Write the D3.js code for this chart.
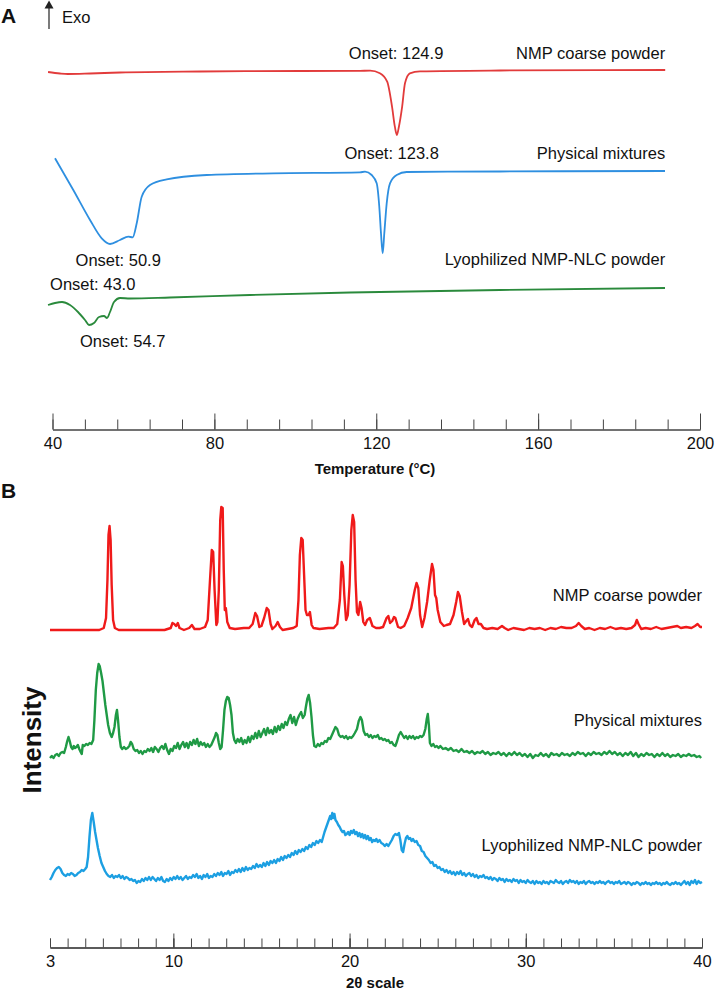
<!DOCTYPE html>
<html><head><meta charset="utf-8">
<script src="https://cdn.jsdelivr.net/npm/d3@7"></script>
<style>
body{margin:0;background:#fff}
svg{display:block}
text{font-family:"Liberation Sans",Arial,Helvetica,sans-serif;fill:#111}
</style>
</head><body>
<svg id="c" width="716" height="992"></svg>
<script>
// ---------- DSC (panel A) ----------
const dscTickLabels = [40, 80, 120, 160, 200];
const dscNames = ["NMP coarse powder", "Physical mixtures", "Lyophilized NMP-NLC powder"];
// [temperature °C, heat flow a.u.]
const dscRed = [[38.9,26.8],[41.85,26.65],[43.8,26.6],[49.3,26.65],[56.7,26.75],[76.5,26.85],[101.2,26.9],[116,26.92],[118.5,26.93],[120.9,26.67],[122.7,25.83],[123.9,23.33],[124.6,21.33],[125.1,20.5],[125.6,21.33],[126.4,23.33],[127.1,25.67],[128.3,26.67],[130.8,26.87],[150.6,26.95],[191.4,27.0]];
const dscBlue = [[40.62,18.17],[45.14,15.0],[49.27,12.0],[52.16,10.17],[54.21,9.6],[56.68,10.0],[58.73,10.33],[59.82,10.27],[60.81,11.67],[62.04,14.33],[64.09,15.5],[68.22,16.07],[78.1,16.5],[94.49,16.67],[115.99,16.77],[117.23,16.83],[118.87,16.5],[120.11,15.67],[120.75,13.33],[121.17,10.67],[121.59,8.67],[121.99,10.67],[122.58,13.67],[123.4,15.67],[125.05,16.5],[127.52,16.8],[150.58,16.85],[191.35,16.9]];
const dscGreen = [[38.89,3.5],[40.62,3.7],[42.35,3.8],[44.32,3.5],[46.3,2.8],[48.03,2.0],[49.02,1.5],[50.25,1.7],[51.49,2.3],[52.73,2.4],[53.47,2.2],[54.21,2.8],[55.2,3.8],[56.68,4.2],[59.15,4.15],[69.03,4.25],[88.8,4.5],[113.51,4.75],[150.58,5.0],[191.35,5.2]];
const dscOnsets = [
  {text:"Onset: 124.9", t:124.9, v:28.1, anchor:"middle"},
  {text:"Onset: 123.8", t:123.8, v:18.1, anchor:"middle"},
  {text:"Onset: 50.9", t:45.7, v:7.4, anchor:"start"},
  {text:"Onset: 43.0", t:39.4, v:5.0, anchor:"start"},
  {text:"Onset: 54.7", t:46.8, v:-0.7, anchor:"start"}
];

// ---------- XRD (panel B) ----------
const xrdTickLabels = [3, 10, 20, 30, 40];
const xrdNames = ["NMP coarse powder", "Physical mixtures", "Lyophilized NMP-NLC powder"];
const xrdOffsets = [330, 205, 78];
// [2θ, intensity a.u.]
const xrdRed = [[3.0,0],[4.0,0],[5.0,0],[5.8,0],[6.05,2],[6.18,12],[6.26,50],[6.32,95],[6.38,104],[6.44,90],[6.5,45],[6.58,10],[6.68,2],[6.9,0],[8,0],[9.5,0],[9.85,2],[9.95,7],[10.05,6],[10.15,4],[10.25,7],[10.35,2],[10.6,0],[10.9,2],[11.05,5],[11.2,1],[11.5,1],[11.65,2],[11.8,3],[11.95,10],[12.08,50],[12.18,80],[12.26,78],[12.34,40],[12.44,5],[12.5,8],[12.58,40],[12.66,110],[12.72,123],[12.8,122],[12.86,60],[12.92,20],[12.98,22],[13.06,8],[13.2,2],[13.5,1],[14.0,2],[14.3,2],[14.5,6],[14.65,17],[14.75,14],[14.88,3],[15.0,4],[15.15,12],[15.3,22],[15.4,20],[15.52,6],[15.62,1],[15.8,4],[15.92,8],[16.05,3],[16.2,0],[16.5,1],[16.8,2],[17.0,4],[17.1,30],[17.18,75],[17.26,92],[17.34,90],[17.42,55],[17.5,20],[17.58,15],[17.68,15],[17.75,18],[17.85,5],[17.95,2],[18.3,1],[18.8,2],[19.1,2],[19.3,6],[19.45,30],[19.55,68],[19.62,64],[19.7,35],[19.8,10],[19.9,15],[20.0,45],[20.1,100],[20.18,115],[20.26,108],[20.34,50],[20.42,18],[20.5,15],[20.6,28],[20.68,22],[20.78,8],[20.88,5],[21.0,10],[21.15,12],[21.3,4],[21.5,2],[21.7,2],[21.9,3],[22.1,12],[22.2,14],[22.3,7],[22.42,9],[22.52,13],[22.6,12],[22.75,3],[22.9,2],[23.1,4],[23.3,12],[23.5,22],[23.7,40],[23.8,47],[23.9,42],[24.0,15],[24.12,3],[24.25,12],[24.4,28],[24.55,50],[24.68,66],[24.76,60],[24.85,35],[24.92,32],[25.0,20],[25.15,8],[25.35,4],[25.5,5],[25.7,6],[25.9,15],[26.05,28],[26.15,38],[26.25,34],[26.38,18],[26.5,6],[26.62,9],[26.72,11],[26.82,5],[26.95,3],[27.1,10],[27.2,12],[27.32,6],[27.45,6],[27.6,2],[27.8,1],[28.1,2],[28.4,1],[28.65,4],[28.8,2],[29.0,0],[29.3,2],[29.6,1],[29.9,0],[30.2,2],[30.5,1],[30.8,2],[31.1,0],[31.4,2],[31.7,1],[32.0,3],[32.3,2],[32.6,2],[32.85,4],[33.0,7],[33.15,4],[33.35,1],[33.6,2],[33.9,0],[34.2,2],[34.5,1],[34.8,3],[35.1,1],[35.4,2],[35.7,1],[36.0,2],[36.2,5],[36.3,10],[36.4,6],[36.55,1],[36.8,2],[37.1,1],[37.4,3],[37.7,1],[38.0,2],[38.3,3],[38.6,4],[38.8,2],[39.1,3],[39.4,2],[39.6,4],[39.75,6],[39.9,3],[40.0,3]];
const xrdGreen = [[3.0,-3],[3.1,-1],[3.2,-3],[3.3,0],[3.4,1],[3.5,-1],[3.6,2],[3.7,3],[3.8,2],[3.9,8],[3.98,14],[4.05,18],[4.12,14],[4.2,8],[4.28,6],[4.35,9],[4.42,7],[4.5,8],[4.58,10],[4.66,6],[4.74,3],[4.8,1],[4.86,10],[4.95,9],[5.05,11],[5.15,10],[5.25,12],[5.35,11],[5.45,15],[5.52,35],[5.6,65],[5.68,82],[5.76,91],[5.82,89],[5.9,82],[5.98,74],[6.06,62],[6.14,50],[6.22,40],[6.3,30],[6.4,22],[6.5,18],[6.58,22],[6.66,28],[6.74,40],[6.8,45],[6.86,35],[6.94,18],[7.02,8],[7.1,6],[7.2,8],[7.3,6],[7.4,7],[7.5,9],[7.58,13],[7.66,11],[7.75,6],[7.85,4],[7.95,5],[8.05,2],[8.15,4],[8.25,1],[8.35,4],[8.45,3],[8.55,6],[8.65,4],[8.75,7],[8.85,3],[8.95,8],[9.05,6],[9.15,3],[9.25,7],[9.35,9],[9.45,6],[9.55,11],[9.65,5],[9.75,1],[9.85,6],[9.95,4],[10.05,9],[10.15,7],[10.25,12],[10.35,6],[10.45,10],[10.55,13],[10.65,8],[10.75,12],[10.85,7],[10.95,13],[11.05,10],[11.15,15],[11.25,11],[11.35,16],[11.45,9],[11.55,13],[11.65,10],[11.75,12],[11.85,8],[11.95,11],[12.05,8],[12.15,10],[12.25,14],[12.35,18],[12.42,22],[12.5,20],[12.58,12],[12.66,6],[12.74,8],[12.82,25],[12.9,45],[12.98,54],[13.06,58],[13.14,57],[13.22,50],[13.3,40],[13.38,22],[13.46,15],[13.55,12],[13.65,16],[13.75,13],[13.85,17],[13.95,11],[14.05,15],[14.15,12],[14.25,18],[14.35,13],[14.45,19],[14.55,16],[14.65,22],[14.75,17],[14.85,24],[14.95,18],[15.05,22],[15.15,26],[15.25,20],[15.35,27],[15.45,22],[15.55,25],[15.65,21],[15.75,28],[15.85,23],[15.95,29],[16.05,25],[16.15,31],[16.25,27],[16.35,33],[16.45,30],[16.55,36],[16.65,40],[16.75,32],[16.85,38],[16.95,30],[17.05,36],[17.15,40],[17.25,43],[17.35,37],[17.45,40],[17.52,48],[17.6,56],[17.68,60],[17.76,52],[17.84,38],[17.92,20],[18.0,9],[18.1,8],[18.2,11],[18.3,9],[18.4,12],[18.5,11],[18.6,14],[18.7,13],[18.8,17],[18.9,16],[19.0,20],[19.1,24],[19.2,28],[19.3,26],[19.4,20],[19.5,18],[19.6,19],[19.7,17],[19.8,19],[19.9,16],[20.0,18],[20.1,17],[20.2,19],[20.3,22],[20.42,26],[20.52,34],[20.62,38],[20.7,35],[20.8,24],[20.9,20],[21.0,21],[21.1,18],[21.2,20],[21.3,17],[21.4,19],[21.5,18],[21.6,20],[21.7,16],[21.8,17],[21.9,15],[22.0,16],[22.1,14],[22.2,15],[22.3,12],[22.4,13],[22.5,10],[22.6,9],[22.7,14],[22.8,20],[22.9,23],[23.0,20],[23.1,17],[23.2,19],[23.3,16],[23.4,19],[23.5,17],[23.6,19],[23.7,16],[23.8,18],[23.9,17],[24.0,19],[24.1,18],[24.2,20],[24.3,26],[24.38,36],[24.44,41],[24.5,30],[24.56,12],[24.65,9],[24.75,11],[24.85,8],[24.95,9],[25.05,7],[25.15,9],[25.3,6],[25.45,7],[25.6,5],[25.75,7],[25.9,4],[26.05,5],[26.2,3],[26.35,6],[26.5,3],[26.65,4],[26.8,2],[26.95,4],[27.1,1],[27.25,3],[27.4,2],[27.55,4],[27.7,1],[27.85,3],[28.0,0],[28.15,2],[28.3,1],[28.45,3],[28.6,0],[28.75,2],[28.9,-1],[29.05,2],[29.2,0],[29.35,3],[29.5,0],[29.65,2],[29.8,-1],[29.95,1],[30.1,-2],[30.25,1],[30.4,-3],[30.55,0],[30.7,-1],[30.85,2],[31.0,-1],[31.15,1],[31.3,-2],[31.45,2],[31.6,0],[31.75,1],[31.9,-1],[32.05,2],[32.2,0],[32.35,1],[32.5,-1],[32.65,2],[32.8,0],[32.95,3],[33.1,1],[33.25,2],[33.4,-1],[33.55,2],[33.7,0],[33.85,3],[34.0,1],[34.15,2],[34.3,0],[34.45,3],[34.6,1],[34.75,4],[34.9,1],[35.05,3],[35.2,0],[35.35,2],[35.5,-1],[35.65,2],[35.8,0],[35.95,3],[36.1,-1],[36.25,2],[36.4,-2],[36.55,1],[36.7,-1],[36.85,2],[37.0,0],[37.15,1],[37.3,-2],[37.45,1],[37.6,-1],[37.75,2],[37.9,-1],[38.05,1],[38.2,-2],[38.35,0],[38.5,-1],[38.65,1],[38.8,-2],[38.95,0],[39.1,-1],[39.25,1],[39.4,-1],[39.55,0],[39.7,-2],[39.85,-1],[39.95,-3]];
const xrdBlue = [[3.0,2],[3.1,5],[3.2,9],[3.3,12],[3.4,14],[3.5,15],[3.6,13],[3.7,9],[3.8,7],[3.9,6],[4.0,8],[4.1,7],[4.2,9],[4.3,8],[4.4,6],[4.5,7],[4.6,9],[4.7,10],[4.8,12],[4.9,11],[5.0,13],[5.08,15],[5.16,25],[5.24,45],[5.32,62],[5.4,69],[5.48,60],[5.56,50],[5.64,42],[5.72,34],[5.82,26],[5.92,19],[6.02,15],[6.12,11],[6.22,8],[6.32,6],[6.42,5],[6.52,7],[6.62,4],[6.72,6],[6.82,5],[6.92,7],[7.02,4],[7.12,6],[7.22,3],[7.32,5],[7.42,4],[7.52,2],[7.62,3],[7.72,1],[7.82,2],[7.92,-1],[8.02,1],[8.12,0],[8.22,3],[8.32,1],[8.42,4],[8.52,2],[8.62,5],[8.72,2],[8.82,5],[8.92,3],[9.02,1],[9.12,4],[9.22,2],[9.32,5],[9.42,1],[9.52,0],[9.62,3],[9.72,1],[9.82,4],[9.92,2],[10.02,5],[10.12,3],[10.22,6],[10.32,3],[10.42,5],[10.52,2],[10.62,4],[10.72,6],[10.82,3],[10.92,5],[11.02,4],[11.12,7],[11.22,5],[11.32,8],[11.42,4],[11.52,6],[11.62,3],[11.72,7],[11.82,5],[11.92,8],[12.02,4],[12.12,6],[12.22,5],[12.32,8],[12.42,6],[12.52,9],[12.62,7],[12.72,10],[12.82,6],[12.92,9],[13.02,8],[13.12,11],[13.22,7],[13.32,10],[13.42,9],[13.52,12],[13.62,10],[13.72,13],[13.82,10],[13.92,14],[14.02,11],[14.12,15],[14.22,12],[14.32,14],[14.42,13],[14.52,16],[14.62,14],[14.72,18],[14.82,15],[14.92,17],[15.02,15],[15.12,19],[15.22,16],[15.32,20],[15.42,17],[15.52,21],[15.62,19],[15.72,22],[15.82,19],[15.92,23],[16.02,21],[16.12,25],[16.22,22],[16.32,26],[16.42,24],[16.52,27],[16.62,25],[16.72,29],[16.82,27],[16.92,31],[17.02,28],[17.12,32],[17.22,30],[17.32,33],[17.42,31],[17.52,35],[17.62,33],[17.72,37],[17.82,35],[17.92,39],[18.02,37],[18.12,41],[18.22,39],[18.32,42],[18.42,40],[18.5,45],[18.58,50],[18.66,54],[18.74,58],[18.82,62],[18.9,66],[18.96,63],[19.02,69],[19.08,64],[19.14,68],[19.2,62],[19.28,60],[19.36,57],[19.44,55],[19.52,52],[19.6,50],[19.68,51],[19.76,47],[19.84,48],[19.92,50],[20.0,47],[20.08,51],[20.16,49],[20.24,52],[20.32,48],[20.4,50],[20.48,46],[20.56,49],[20.64,45],[20.72,48],[20.8,44],[20.88,47],[20.96,43],[21.04,46],[21.12,42],[21.2,44],[21.28,40],[21.36,42],[21.44,41],[21.52,43],[21.6,40],[21.7,42],[21.8,39],[21.9,38],[22.0,36],[22.1,38],[22.2,36],[22.3,39],[22.4,42],[22.5,46],[22.6,48],[22.7,47],[22.8,49],[22.88,42],[22.96,32],[23.04,30],[23.12,38],[23.2,44],[23.28,46],[23.36,43],[23.44,44],[23.52,41],[23.6,43],[23.7,40],[23.8,41],[23.9,37],[24.0,36],[24.1,31],[24.2,30],[24.3,26],[24.4,24],[24.5,22],[24.6,19],[24.7,20],[24.8,16],[24.9,17],[25.0,14],[25.1,15],[25.2,12],[25.3,13],[25.4,10],[25.5,12],[25.6,9],[25.7,11],[25.8,8],[25.9,10],[26.0,7],[26.1,10],[26.2,8],[26.3,11],[26.4,7],[26.5,9],[26.6,6],[26.7,8],[26.8,9],[26.9,6],[27.0,8],[27.1,5],[27.2,7],[27.3,4],[27.4,6],[27.5,5],[27.6,7],[27.7,4],[27.8,5],[27.9,3],[28.0,5],[28.1,2],[28.2,4],[28.3,3],[28.4,1],[28.5,4],[28.6,2],[28.7,3],[28.8,0],[28.9,3],[29.0,1],[29.1,2],[29.2,0],[29.3,3],[29.4,1],[29.5,2],[29.6,-1],[29.7,2],[29.8,0],[29.9,1],[30.0,-1],[30.1,2],[30.2,0],[30.3,-1],[30.4,1],[30.5,-2],[30.6,1],[30.7,-1],[30.8,0],[30.9,-2],[31.0,1],[31.1,-1],[31.2,0],[31.3,-2],[31.4,1],[31.5,0],[31.6,-1],[31.7,2],[31.8,0],[31.9,-1],[32.0,1],[32.1,-2],[32.2,0],[32.3,1],[32.4,-1],[32.5,2],[32.6,0],[32.7,1],[32.8,-1],[32.9,1],[33.0,-2],[33.1,0],[33.2,-1],[33.3,1],[33.4,-2],[33.5,0],[33.6,1],[33.7,-1],[33.8,0],[33.9,-2],[34.0,0],[34.1,-1],[34.2,1],[34.3,-1],[34.4,0],[34.5,-2],[34.6,0],[34.7,1],[34.8,-1],[34.9,0],[35.0,-2],[35.1,0],[35.2,-1],[35.3,1],[35.4,-2],[35.5,-1],[35.6,0],[35.7,-2],[35.8,0],[35.9,-1],[36.0,-3],[36.1,-1],[36.2,-2],[36.3,0],[36.4,-1],[36.5,-3],[36.6,-1],[36.7,-2],[36.8,0],[36.9,-2],[37.0,-1],[37.1,-3],[37.2,-1],[37.3,-2],[37.4,0],[37.5,-2],[37.6,-1],[37.7,-3],[37.8,-1],[37.9,-2],[38.0,0],[38.1,-2],[38.2,-3],[38.3,-1],[38.4,-2],[38.5,0],[38.6,-2],[38.7,-1],[38.8,-3],[38.9,-1],[39.0,1],[39.1,-2],[39.2,0],[39.3,-3],[39.4,1],[39.5,-1],[39.6,2],[39.7,-2],[39.8,1],[39.9,-1],[40.0,0]];

// ---------- drawing ----------
const svg = d3.select("#c");
const FONT = '"Liberation Sans",Arial,Helvetica,sans-serif';

// Panel A
const xD = d3.scaleLinear().domain([40, 200]).range([52.5, 700]);
const yD = d3.scaleLinear().domain([0, 30]).range([340, 40]);
const lineD = d3.line().x(d => xD(d[0])).y(d => yD(d[1])).curve(d3.curveMonotoneX);
const dscColors = ["#e23b3b", "#2e8fe0", "#2a8a3c"];
[dscRed, dscBlue, dscGreen].forEach((s, i) => {
  svg.append("path").datum(s).attr("d", lineD)
    .attr("fill", "none").attr("stroke", dscColors[i]).attr("stroke-width", 1.8)
    .attr("stroke-linejoin", "round");
});
const dscNameV = [28.1, 18.15, 7.5];
dscNames.forEach((n, i) => {
  svg.append("text").attr("x", xD(191.4)).attr("y", yD(dscNameV[i]))
    .attr("text-anchor", "end").attr("font-size", 16.5).text(n);
});
dscOnsets.forEach(o => {
  svg.append("text").attr("x", xD(o.t)).attr("y", yD(o.v))
    .attr("text-anchor", o.anchor).attr("font-size", 16.5).text(o.text);
});

const axD = svg.append("g").attr("transform", "translate(0,429.5)");
axD.call(d3.axisBottom(xD).tickValues(d3.range(40, 201, 8)).tickSize(-10).tickSizeOuter(0).tickFormat(""));
const axD2 = svg.append("g").attr("transform", "translate(0,429.5)");
axD2.call(d3.axisBottom(xD).tickValues(dscTickLabels).tickSize(-16).tickSizeOuter(0).tickPadding(8).tickFormat(d3.format("d")));
[axD, axD2].forEach(g => {
  g.selectAll("path.domain").attr("stroke", "#444");
  g.selectAll(".tick line").attr("stroke", "#444");
  g.selectAll("text").attr("font-size", 16.5).attr("font-family", FONT).attr("fill", "#111");
});
svg.append("text").attr("x", 375).attr("y", 474).attr("text-anchor", "middle")
  .attr("font-size", 15).attr("font-weight", "bold").text("Temperature (°C)");

// Exo arrow & panel label
svg.append("line").attr("x1", 49).attr("x2", 49).attr("y1", 29).attr("y2", 6)
  .attr("stroke", "#333").attr("stroke-width", 1.3);
svg.append("path").attr("d", "M44.5,8.5L49,0.5L53.5,8.5Z").attr("fill", "#222");
svg.append("text").attr("x", 62).attr("y", 23).attr("font-size", 16.5).text("Exo");
svg.append("text").attr("x", 1).attr("y", 23).attr("font-size", 21).attr("font-weight", "bold").text("A");

// Panel B
const xX = d3.scaleLinear().domain([3, 40]).range([50, 702]);
const yX = d3.scaleLinear().domain([0, 500]).range([960, 460]);
const xrdColors = ["#f01a1a", "#1f9a45", "#1c9fe2"];
[xrdRed, xrdGreen, xrdBlue].forEach((s, i) => {
  const line = d3.line().x(d => xX(d[0])).y(d => yX(d[1] + xrdOffsets[i]));
  svg.append("path").datum(s).attr("d", line)
    .attr("fill", "none").attr("stroke", xrdColors[i]).attr("stroke-width", 2.4)
    .attr("stroke-linejoin", "round");
});
const xrdNameY = [601, 726, 851];
xrdNames.forEach((n, i) => {
  svg.append("text").attr("x", 702).attr("y", xrdNameY[i])
    .attr("text-anchor", "end").attr("font-size", 16.5).text(n);
});

const axX = svg.append("g").attr("transform", "translate(0,947.5)");
axX.call(d3.axisBottom(xX).tickValues(d3.range(3, 41, 1)).tickSize(-9).tickSizeOuter(0).tickFormat(""));
const axX2 = svg.append("g").attr("transform", "translate(0,947.5)");
axX2.call(d3.axisBottom(xX).tickValues(xrdTickLabels).tickSize(-9).tickSizeOuter(0).tickPadding(8).tickFormat(d3.format("d")));
const axX3 = svg.append("g").attr("transform", "translate(0,947.5)");
axX3.call(d3.axisBottom(xX).tickValues([10, 20, 30]).tickSize(-14).tickSizeOuter(0).tickFormat(""));
[axX, axX2, axX3].forEach(g => {
  g.selectAll("path.domain").attr("stroke", "#444");
  g.selectAll(".tick line").attr("stroke", "#444");
  g.selectAll("text").attr("font-size", 16.5).attr("font-family", FONT).attr("fill", "#111");
});
svg.append("text").attr("x", 375).attr("y", 988).attr("text-anchor", "middle")
  .attr("font-size", 15).attr("font-weight", "bold").text("2θ scale");

svg.append("text").attr("transform", "translate(41,740) rotate(-90)")
  .attr("text-anchor", "middle").attr("font-size", 26).attr("font-weight", "bold").text("Intensity");
svg.append("text").attr("x", 1).attr("y", 498).attr("font-size", 21).attr("font-weight", "bold").text("B");
</script>
</body></html>
